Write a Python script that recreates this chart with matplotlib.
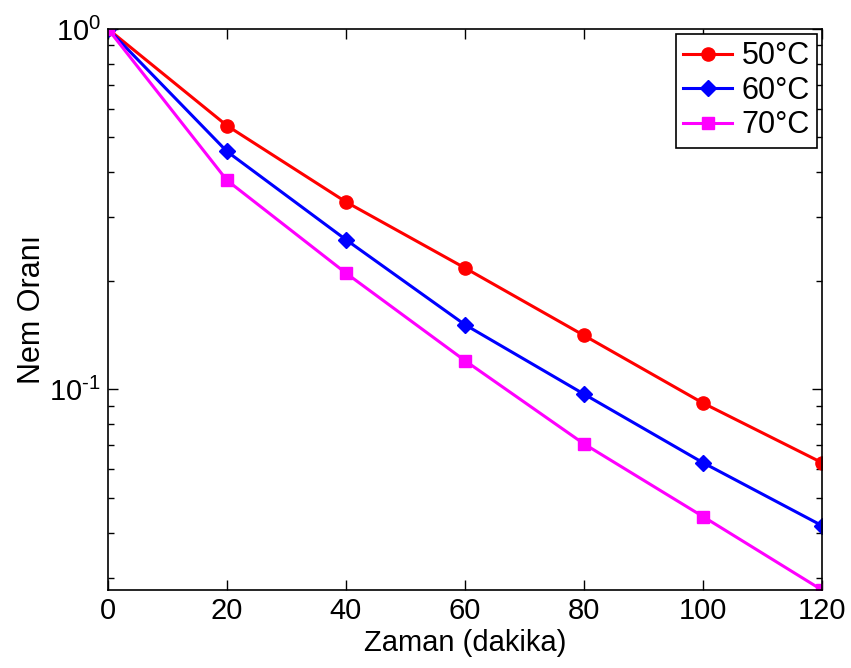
import matplotlib
matplotlib.use("Agg")
import matplotlib.pyplot as plt
import numpy as np
from matplotlib.ticker import LogLocator, NullFormatter, FuncFormatter

plt.rcParams['font.family'] = ['Liberation Sans', 'DejaVu Sans']
plt.rcParams['axes.unicode_minus'] = False
plt.rcParams['mathtext.fontset'] = 'custom'
plt.rcParams['mathtext.rm'] = 'Liberation Sans'

# drying time (minutes) and moisture ratio at each temperature
zaman = [0, 20, 40, 60, 80, 100, 120]
nem_50 = [1.0, 0.539, 0.331, 0.217, 0.141, 0.0915, 0.0625]
nem_60 = [1.0, 0.457, 0.260, 0.151, 0.0969, 0.0625, 0.0418]
nem_70 = [1.0, 0.380, 0.210, 0.120, 0.0705, 0.0443, 0.0277]
etiketler = ['50°C', '60°C', '70°C']


def us_etiketi(v, pos):
    # MATLAB style "10^-1" with a plain hyphen
    e = int(round(np.log10(v)))
    us = str(e) if e >= 0 else r'\text{-}' + str(-e)
    return r'$\mathregular{10^{' + us + '}}$'


fig = plt.figure(figsize=(8.51, 6.68), dpi=100)
ax = fig.add_axes([108 / 851, 78 / 668, 714 / 851, 561 / 668])

ax.semilogy(zaman, nem_50, '-o', color='#ff0000', lw=2.2, ms=9.5, label=etiketler[0])
ax.semilogy(zaman, nem_60, '-D', color='#0000ff', lw=2.2, ms=8.5, label=etiketler[1])
ax.semilogy(zaman, nem_70, '-s', color='#ff00ff', lw=2.2, ms=8.5, label=etiketler[2])

ax.set_xlim(0, 120)
ax.set_ylim(0.0277, 1.0)
ax.set_xticks(zaman)
ax.yaxis.set_major_locator(LogLocator(base=10, numticks=5))
ax.yaxis.set_major_formatter(FuncFormatter(us_etiketi))
ax.yaxis.set_minor_locator(LogLocator(base=10, subs=range(2, 10), numticks=20))
ax.yaxis.set_minor_formatter(NullFormatter())

ax.tick_params(which='both', direction='in', top=True, right=True, labelsize=21)
ax.tick_params(which='major', length=7, width=1, pad=5)
ax.tick_params(which='minor', length=4, width=1)
for sp in ax.spines.values():
    sp.set_linewidth(1.2)

ax.set_xlabel('Zaman (dakika)', fontsize=21, labelpad=3)
ax.set_ylabel('Nem Oranı', fontsize=22, labelpad=2)

leg = ax.legend(loc='upper right', fontsize=22, fancybox=False, edgecolor='black',
                framealpha=1, handlelength=1.6, handletextpad=0.3,
                borderpad=0.25, labelspacing=0.15, borderaxespad=0.15)
leg.get_frame().set_linewidth(1.2)

fig.savefig('out.png', dpi=100)
